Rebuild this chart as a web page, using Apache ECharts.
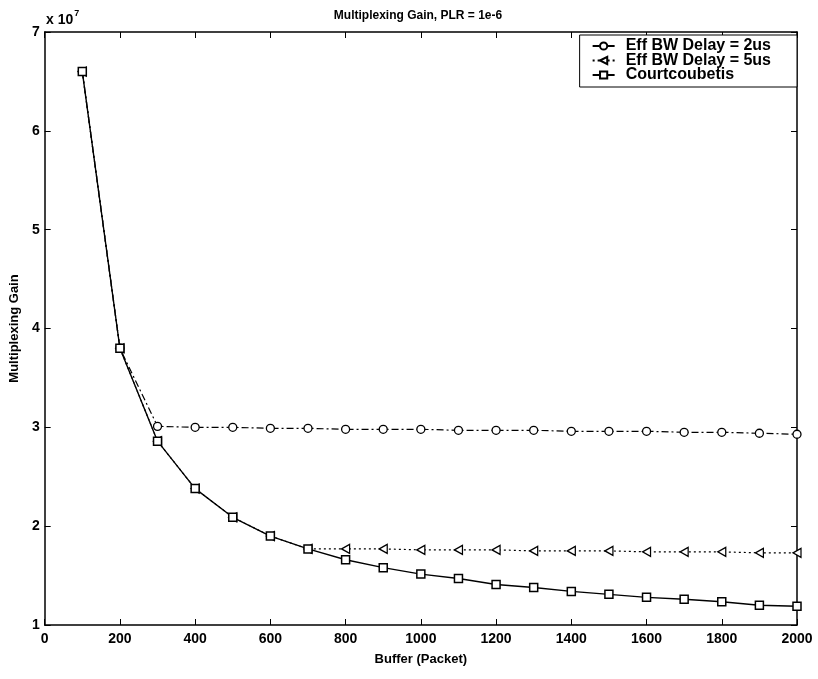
<!DOCTYPE html>
<html>
<head>
<meta charset="utf-8">
<script src="https://cdn.jsdelivr.net/npm/echarts@6/dist/echarts.min.js"></script>
<style>
  html, body { margin: 0; padding: 0; background: #fff; }
  #chart { width: 818px; height: 679px; }
</style>
</head>
<body>
<div id="chart"></div>
<script>
// Buffer sizes (packets)
var buffers = [100, 200, 300, 400, 500, 600, 700, 800, 900, 1000, 1100, 1200, 1300, 1400, 1500, 1600, 1700, 1800, 1900, 2000];
// Multiplexing gain values, in units of 1e7
var effBw2us = [6.6, 3.8, 3.01, 3.0, 3.0, 2.99, 2.99, 2.98, 2.98, 2.98, 2.97, 2.97, 2.97, 2.96, 2.96, 2.96, 2.95, 2.95, 2.94, 2.93];
var effBw5us = [6.6, 3.8, 2.86, 2.38, 2.09, 1.90, 1.77, 1.77, 1.77, 1.76, 1.76, 1.76, 1.75, 1.75, 1.75, 1.74, 1.74, 1.74, 1.73, 1.73];
var courtcoubetis = [6.6, 3.8, 2.86, 2.38, 2.09, 1.90, 1.77, 1.66, 1.58, 1.515, 1.47, 1.41, 1.38, 1.34, 1.31, 1.28, 1.26, 1.235, 1.20, 1.19];
var seriesNames = ['Eff BW Delay = 2us', 'Eff BW Delay = 5us', 'Courtcoubetis'];
var xTicks = [0, 200, 400, 600, 800, 1000, 1200, 1400, 1600, 1800, 2000];
var yTicks = [1, 2, 3, 4, 5, 6, 7];

function pairs(ys) { return buffers.map(function (x, i) { return [x, ys[i]]; }); }

var font = 'Liberation Sans, Arial, sans-serif';
var chart = echarts.init(document.getElementById('chart'));

var tickInside = { show: true, inside: true, length: 6, lineStyle: { color: '#000', width: 1 } };
var lineAxis = { show: true, onZero: false, lineStyle: { color: '#000', width: 1.5 } };

var option = {
  animation: false,
  backgroundColor: '#fff',
  title: {
    text: 'Multiplexing Gain, PLR = 1e-6',
    left: 413, top: 5, textAlign: 'center',
    textStyle: { fontFamily: font, fontSize: 12, fontWeight: 'bold', color: '#000' }
  },
  graphic: [{
    type: 'text', left: 46, top: 9,
    style: {
      text: '{a|x 10}{b|7}',
      rich: {
        a: { fontFamily: font, fontSize: 14, fontWeight: 'bold', fill: '#000', verticalAlign: 'bottom' },
        b: { fontFamily: font, fontSize: 9, fontWeight: 'bold', fill: '#000', verticalAlign: 'top', padding: [0, 0, 9, 1] }
      }
    }
  }],
  legend: {
    orient: 'vertical',
    right: 21, top: 35,
    itemWidth: 22, itemHeight: 9, itemGap: -1.5,
    padding: [3, 26, 4, 12],
    backgroundColor: '#fff',
    borderColor: '#000', borderWidth: 1,
    textStyle: { fontFamily: font, fontSize: 16, fontWeight: 'bold', color: '#000', padding: [0, 0, 0, 6] },
    data: seriesNames
  },
  grid: { left: 43, right: 21, top: 32, bottom: 54, containLabel: false },
  xAxis: [{
    type: 'value', min: 0, max: 2000, interval: 200,
    name: 'Buffer (Packet)', nameLocation: 'middle', nameGap: 28,
    nameTextStyle: { fontFamily: font, fontSize: 13, fontWeight: 'bold', color: '#000' },
    axisLine: lineAxis, axisTick: tickInside,
    axisLabel: { margin: 7, fontFamily: font, fontSize: 14, fontWeight: 'bold', color: '#000',
      formatter: function (v) { return xTicks.indexOf(v) >= 0 ? String(v) : ''; } },
    splitLine: { show: false }
  }, {
    type: 'value', min: 0, max: 2000, interval: 200, position: 'top',
    axisLine: lineAxis, axisTick: tickInside, axisLabel: { show: false }, splitLine: { show: false }
  }],
  yAxis: [{
    type: 'value', min: 1, max: 7, interval: 1,
    name: 'Multiplexing Gain', nameLocation: 'middle', nameGap: 12,
    nameTextStyle: { fontFamily: font, fontSize: 13, fontWeight: 'bold', color: '#000' },
    axisLine: lineAxis, axisTick: tickInside,
    axisLabel: { margin: 5, fontFamily: font, fontSize: 14, fontWeight: 'bold', color: '#000',
      formatter: function (v) { return yTicks.indexOf(v) >= 0 ? String(v) : ''; } },
    splitLine: { show: false }
  }, {
    type: 'value', min: 1, max: 7, interval: 1, position: 'right',
    axisLine: lineAxis, axisTick: tickInside, axisLabel: { show: false }, splitLine: { show: false }
  }],
  series: [{
    name: seriesNames[0], type: 'line', data: pairs(effBw2us),
    symbol: 'circle', symbolSize: 8,
    lineStyle: { color: '#000', width: 1.2, type: [7, 3, 2, 3] },
    itemStyle: { color: '#fff', borderColor: '#000', borderWidth: 1.3 },
    z: 3
  }, {
    name: seriesNames[1], type: 'line', data: pairs(effBw5us),
    symbol: 'path://M0,5 L10,0 L10,10 Z', symbolSize: [8, 9],
    lineStyle: { color: '#000', width: 1.2, type: [2, 3] },
    itemStyle: { color: '#fff', borderColor: '#000', borderWidth: 1.3 },
    z: 4
  }, {
    name: seriesNames[2], type: 'line', data: pairs(courtcoubetis),
    symbol: 'rect', symbolSize: 8,
    lineStyle: { color: '#000', width: 1.4, type: 'solid' },
    itemStyle: { color: '#fff', borderColor: '#000', borderWidth: 1.5 },
    z: 5
  }]
};
chart.setOption(option);
</script>
</body>
</html>
